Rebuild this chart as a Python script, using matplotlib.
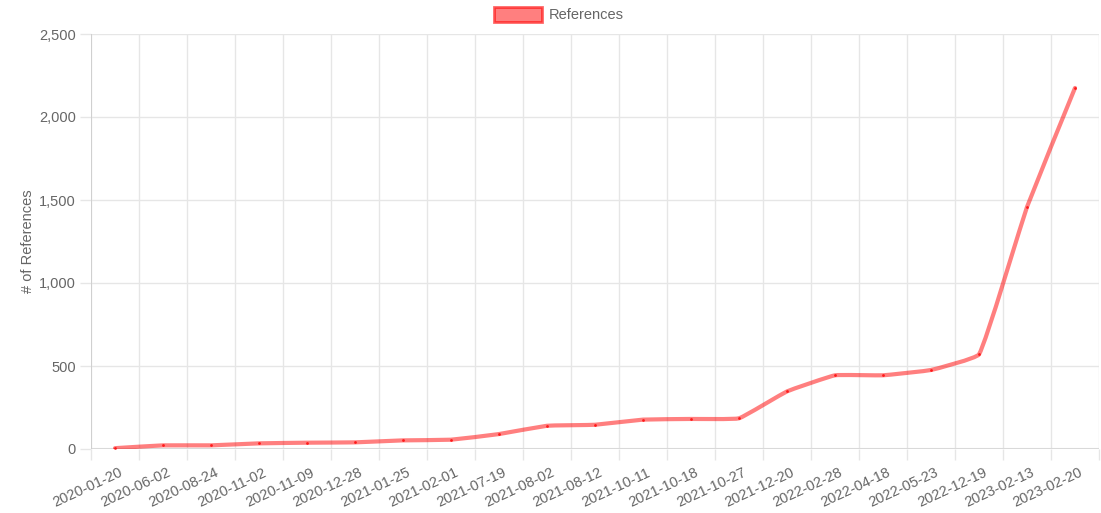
import numpy as np
import matplotlib
matplotlib.use("Agg")
import matplotlib.pyplot as plt
from matplotlib.path import Path
from matplotlib.patches import PathPatch, Rectangle
from matplotlib.ticker import FuncFormatter, MultipleLocator
from matplotlib.transforms import ScaledTranslation

# --- Data ---
dates = ["2020-01-20", "2020-06-02", "2020-08-24", "2020-11-02", "2020-11-09",
         "2020-12-28", "2021-01-25", "2021-02-01", "2021-07-19", "2021-08-02",
         "2021-08-12", "2021-10-11", "2021-10-18", "2021-10-27", "2021-12-20",
         "2022-02-28", "2022-04-18", "2022-05-23", "2022-12-19", "2023-02-13",
         "2023-02-20"]
references = [5, 22, 22, 34, 38, 40, 52, 56, 90, 140, 146, 177, 181, 185,
              347, 444, 444, 476, 570, 1458, 2175]

plt.rcParams['font.family'] = ['Liberation Sans', 'DejaVu Sans']
text_col = '#666666'
grid_col = '#e6e6e6'
line_col = (1.0, 0.0, 0.0, 0.5)


# --- Chart.js style bezier with a small tension ---
def spline_path(xs, ys, tension=0.1):
    verts = [(xs[0], ys[0])]
    codes = [Path.MOVETO]
    n = len(xs)
    ctrl = []
    for i in range(n):
        p = (xs[max(i - 1, 0)], ys[max(i - 1, 0)])
        c = (xs[i], ys[i])
        nx = (xs[min(i + 1, n - 1)], ys[min(i + 1, n - 1)])
        d01 = np.hypot(c[0] - p[0], c[1] - p[1])
        d12 = np.hypot(nx[0] - c[0], nx[1] - c[1])
        s01 = d01 / (d01 + d12) if d01 + d12 else 0
        s12 = d12 / (d01 + d12) if d01 + d12 else 0
        fa, fb = tension * s01, tension * s12
        prev_c = (c[0] - fa * (nx[0] - p[0]), c[1] - fa * (nx[1] - p[1]))
        next_c = (c[0] + fb * (nx[0] - p[0]), c[1] + fb * (nx[1] - p[1]))
        ctrl.append((prev_c, next_c))
    for i in range(1, n):
        verts += [ctrl[i - 1][1], ctrl[i][0], (xs[i], ys[i])]
        codes += [Path.CURVE4] * 3
    return Path(verts, codes)


fig = plt.figure(figsize=(11.01, 5.13), dpi=100)
ax = fig.add_axes([91 / 1101, 64 / 513, 1008 / 1101, 415 / 513])

x = np.arange(len(dates))
# spline computed in pixel space so the tension matches the browser render
px_per_x = 48.0
px_per_y = 415 / 2500
path = spline_path(x * px_per_x, np.array(references) * px_per_y)
verts = path.vertices.copy()
verts[:, 0] /= px_per_x
verts[:, 1] /= px_per_y
ax.add_patch(PathPatch(Path(verts, path.codes), facecolor='none',
                       edgecolor=line_col, lw=3, capstyle='round',
                       joinstyle='round', zorder=3))
ax.scatter(x, references, s=4, color=(1, 0, 0, 0.8), zorder=4, linewidths=0)

ax.set_xlim(-0.5, len(dates) - 0.5)
ax.set_ylim(0, 2500)

# grid lines at category boundaries
for b in np.arange(-0.5, len(dates)):
    ax.axvline(b, color=grid_col, lw=1, zorder=1)
ax.yaxis.set_major_locator(MultipleLocator(500))
ax.grid(axis='y', color=grid_col, lw=1, zorder=1)
ax.axhline(0, color='#d9d9d9', lw=1.5, zorder=2)
ax.axvline(-0.5, color='#cccccc', lw=1.2, zorder=2)

for s in ax.spines.values():
    s.set_visible(False)

ax.set_xticks(np.arange(-0.5, len(dates)), minor=False)
ax.set_xticklabels([])
ax.set_xticks(x, minor=True)
ax.set_xticklabels(dates, minor=True, rotation=25, ha='right',
                   rotation_mode='anchor', fontsize=10.5, color=text_col)
ax.tick_params(axis='x', which='major', length=8, color=grid_col, width=1)
ax.tick_params(axis='x', which='minor', length=0, pad=12)
shift = ScaledTranslation(4 / 100, 0, fig.dpi_scale_trans)
for lbl in ax.get_xticklabels(minor=True):
    lbl.set_transform(lbl.get_transform() + shift)

ax.yaxis.set_major_formatter(FuncFormatter(lambda v, _: f"{int(v):,}"))
ax.tick_params(axis='y', length=8, color=grid_col, width=1, labelsize=10.5,
               labelcolor=text_col, pad=3)
ax.set_ylabel("# of References", fontsize=10.5, color=text_col, labelpad=3)

# legend (Chart.js style, centered on top)
fig.patches.append(Rectangle((494 / 1101, 1 - 22 / 513), 48 / 1101, 15 / 513,
                             transform=fig.transFigure, facecolor=line_col,
                             edgecolor=(1, 0, 0, 0.6), lw=2))
fig.text(549 / 1101, 1 - 15 / 513, "References", fontsize=10.5, color=text_col,
         va='center', ha='left')

fig.savefig("out.png", dpi=100)
